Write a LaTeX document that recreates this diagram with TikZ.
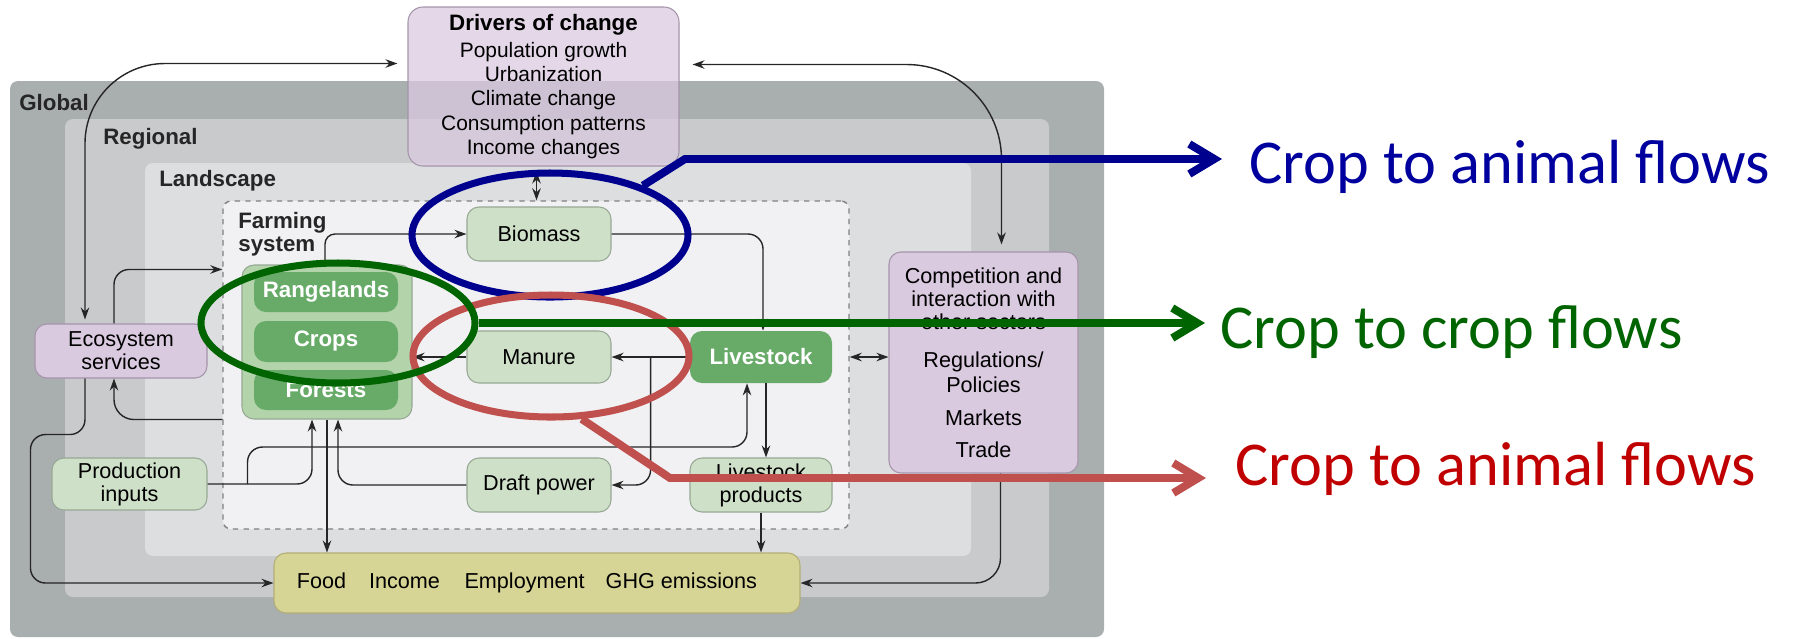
\documentclass[tikz,border=0pt]{standalone}
\usepackage{fontspec}
\setmainfont{Liberation Sans}
\newfontfamily\calfont{Carlito}
\usepackage{tikz}
\usetikzlibrary{positioning}
\usetikzlibrary{calc}
\usetikzlibrary{arrows.meta}
\usetikzlibrary{shapes.geometric}
\usepackage{xcolor}

\definecolor{globalgray}{HTML}{A9AEAE}
\definecolor{regiongray}{HTML}{C9CACC}
\definecolor{landgray}{HTML}{DCDEE0}
\definecolor{farmgray}{HTML}{F1F1F3}
\definecolor{lightgreen}{HTML}{CFE0C9}
\definecolor{lightgreenline}{HTML}{97A894}
\definecolor{darkgreen}{HTML}{68AB69}
\definecolor{midgreen}{HTML}{B3D3AB}
\definecolor{lilac}{HTML}{DACAE0}
\definecolor{lilacline}{HTML}{A594AA}
\definecolor{olive}{HTML}{D7D596}
\definecolor{oliveline}{HTML}{B3AE76}
\definecolor{navy}{HTML}{00008F}
\definecolor{navytext}{HTML}{00009E}
\definecolor{leafgreen}{HTML}{006400}
\definecolor{brickred}{HTML}{C0504D}
\definecolor{deepred}{HTML}{C00000}

\begin{document}
\begin{tikzpicture}[x=0.2mm, y=-0.2mm,
  >={Stealth[length=2.4mm,width=1.7mm]},
  boxfont/.style={font=\fontsize{12.3}{13.2}\selectfont},
  lightbox/.style={draw=lightgreenline, fill=lightgreen, rounded corners=2.4mm, line width=0.6pt, align=center, boxfont, inner sep=0pt},
  darkbox/.style={fill=darkgreen, rounded corners=2.4mm, text=white, align=center, font=\fontsize{12.7}{14}\selectfont\bfseries, inner sep=0pt},
  lilacbox/.style={draw=lilacline, fill=lilac, rounded corners=2.4mm, line width=0.6pt, align=center, boxfont, inner sep=0pt},
  layer/.style={rounded corners=1.6mm},
  layerlabel/.style={anchor=west, font=\fontsize{12.7}{14}\selectfont\bfseries, text=black!85, inner sep=0pt},
  conn/.style={draw=black!85, line width=0.8pt, ->, rounded corners=3mm},
  oval/.style={ellipse, line width=4pt, inner sep=0pt},
  callout/.style={line width=4.5pt, -{Straight Barb[length=5mm,width=6mm]}},
  callfont/.style={anchor=base west, inner sep=0pt, font=\calfont\fontsize{35.5}{40}\selectfont}
]
\useasboundingbox (0,0) rectangle (1794,638);

% nested scales
\fill[globalgray, layer] (10,81) rectangle (1104,637);
\fill[regiongray, layer] (65,119) rectangle (1049,597);
\fill[landgray, layer] (145,163) rectangle (971,556);
\node[draw=gray, dashed, line width=0.8pt, fill=farmgray, rounded corners=1.6mm, minimum width=125.2mm, minimum height=65.6mm, inner sep=0pt] (fs) at (536,365) {};

\node[layerlabel] (globallabel) at (19,103) {Global};
\node[layerlabel] (regionlabel) at (103,139) {Regional};
\node[layerlabel] (landlabel) at (159,181) {Landscape};
\node[layerlabel, anchor=north west, align=left, font=\fontsize{12.7}{13}\selectfont\bfseries] (fslabel) at (238,212) {Farming\\system};

% boxes
\node[lilacbox, fill opacity=0.75, text opacity=1, minimum width=54.2mm, minimum height=31.8mm, rounded corners=3mm, font=\fontsize{11.9}{13.9}\selectfont] (drivers) at (543.5,86.5)
{{\bfseries\fontsize{12.7}{14}\selectfont Drivers of change}\\[1.5pt]Population growth\\Urbanization\\Climate change\\Consumption patterns\\Income changes};

\node[lilacbox, minimum width=34.4mm, minimum height=10.8mm] (eco) at (121,351) {Ecosystem\\services};
\node[lightbox, minimum width=31mm, minimum height=10.4mm] (inputs) at (129.5,484) {Production\\inputs};

\node[draw=lightgreenline, fill=midgreen, line width=0.6pt, rounded corners=2.4mm, minimum width=34mm, minimum height=30.8mm, inner sep=0pt] (croplands) at (327,342) {};
\node[darkbox, minimum width=28.8mm, minimum height=8mm] (rangelands) at (326,292) {Rangelands};
\node[darkbox, minimum width=28.8mm, minimum height=8.2mm] (crops) at (326,341.5) {Crops};
\node[darkbox, minimum width=28.8mm, minimum height=8mm] (forests) at (326,390) {Forests};

\node[lightbox, minimum width=28.8mm, minimum height=10.8mm] (biomass) at (539,234) {Biomass};
\node[lightbox, minimum width=28.8mm, minimum height=10.4mm] (manure) at (539,357) {Manure};
\node[lightbox, minimum width=28.8mm, minimum height=10.8mm] (draft) at (539,485) {Draft power};
\node[darkbox, minimum width=28.4mm, minimum height=10.4mm] (livestock) at (761,357) {Livestock};
\node[lightbox, minimum width=28.4mm, minimum height=10.8mm] (lsprod) at (761,485) {Livestock\\products};

\node[lilacbox, minimum width=37.8mm, minimum height=44.2mm, font=\fontsize{12.3}{13.1}\selectfont] (comp) at (983.5,362.5)
{Competition and\\interaction with\\other sectors\\[8.5pt]Regulations/\\[1pt]Policies\\[5.7pt]Markets\\[5.1pt]Trade};

\node[draw=oliveline, fill=olive, line width=0.6pt, rounded corners=2.4mm, minimum width=105.2mm, minimum height=12mm, boxfont] (food) at (537,583)
{Food\hspace{13pt}Income\hspace{14pt}Employment\hspace{12pt}GHG emissions\hspace*{4mm}};

% flows
\draw[conn, <->, rounded corners=16mm, shorten >=2mm] ($(eco.north)+(-36,-4)$) |- ($(drivers.west)+(0,-23)$);
\draw[conn, <->, rounded corners=19mm, shorten <=2.6mm] ($(drivers.east)+(0,-22)$) -| ($(comp.north)+(18,-7)$);
\coordinate (driversfoot) at ($(drivers.south)+(-7,0)$);
\draw[conn, <->, shorten <=1mm] (driversfoot) -- (driversfoot |- fs.north);

\draw[conn] ($(eco.north)+(-7,0)$) |- ($(fs.west |- croplands.north)+(0,5)$);
\draw[conn, rounded corners=2mm] ($(croplands.north)+(-2,0)$) |- (biomass.west);
\draw[conn] (biomass.east) -| ($(livestock.north)+(2,0)$);

\draw[conn, line width=1.4pt] (livestock.west) -- (manure.east);
\draw[conn, line width=1.4pt] (manure.west) -- (manure.west -| croplands.east);
\coordinate (dungfork) at ($(livestock.west)!0.5!(manure.east)$);
\draw[conn] (dungfork) |- (draft.east);
\draw[conn, <->] (fs.east |- livestock.east) -- (comp.west |- livestock.east);
\draw[conn] ($(livestock.south)+(5,0)$) -- ($(lsprod.north)+(5,0)$);

\draw[conn] (inputs.east) -| ($(croplands.south)+(-15,0)$);
\draw[conn] ($(inputs.east)+(40,0)$) -- ++(0,-37) -| ($(livestock.south)+(-14,0)$);
\draw[conn] (draft.west) -| ($(croplands.south)+(11,0)$);

\draw[conn] (croplands.south) -- (croplands.south |- food.north);
\draw[conn] (lsprod.south) -- (lsprod.south |- food.north);
\draw[conn, rounded corners=5mm] ($(comp.south)+(17,0)$) |- (food.east);
\draw[conn, rounded corners=4mm] (fs.west |- croplands.south) -| ($(eco.south)+(-7,0)$);
\draw[conn] ($(eco.south)+(-36,0)$) -- ++(0,56) -| ($(food.west)+(-243,0)$) -- (food.west);

% highlighted flows
\node[oval, draw=navy, minimum width=55.2mm, minimum height=24.8mm] (blueoval) at (550,235) {};
\node[oval, draw=brickred, minimum width=55.2mm, minimum height=24.4mm] (redoval) at (551,356) {};
\node[oval, draw=leafgreen, minimum width=54.8mm, minimum height=24mm] (greenoval) at (338,323) {};

\coordinate (bluebend) at (685,159);
\coordinate (bluetip) at (1222,159);
\draw[callout, navy] (blueoval.28) -- (bluebend) -- (bluetip);
\node[callfont, text=navytext] (bluetext) at (1249,183) {Crop to animal flows};

\coordinate (greentip) at (1205,323);
\draw[callout, leafgreen] (greenoval.east) -- (greentip);
\node[callfont, text=leafgreen] (greentext) at (1220,348) {Crop to crop flows};

\coordinate (redbend) at (670,478);
\coordinate (redtip) at (1206,478);
\draw[callout, brickred] (redoval.-64) -- (redbend) -- (redtip);
\node[callfont, text=deepred] (redtext) at (1235,485) {Crop to animal flows};

\end{tikzpicture}
\end{document}
